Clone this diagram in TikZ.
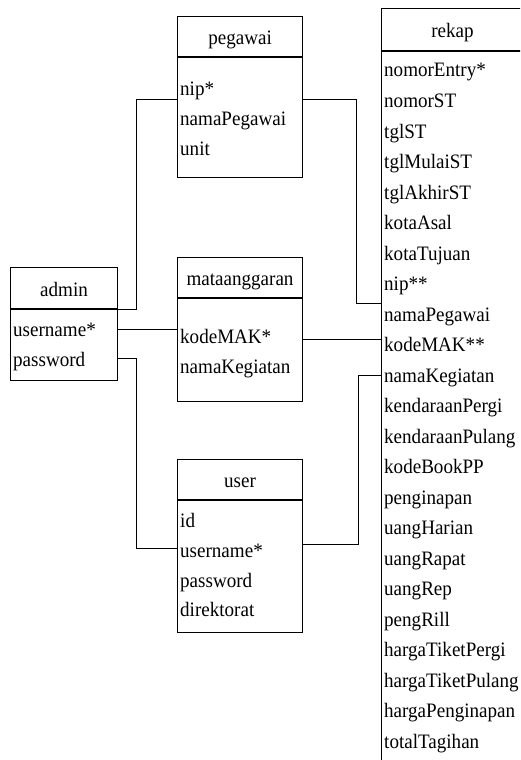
\documentclass[tikz,border=0pt]{standalone}
\usepackage{fontspec}
\setmainfont{Liberation Serif}
\newfontfamily\erdfont[FakeStretch=0.93]{Liberation Serif}
\begin{document}
\begin{tikzpicture}[x=1pt,y=-1pt,
  box/.style={draw=black,line width=1.1pt,rectangle,inner sep=0pt,anchor=north west},
  ttl/.style={anchor=base,inner sep=0pt,font=\erdfont\fontsize{20.5}{24}\selectfont},
  attr/.style={anchor=base west,inner sep=0pt,font=\erdfont\fontsize{20.5}{24}\selectfont},
  link/.style={draw=black,line width=0.8pt}]
\useasboundingbox (0,0) rectangle (520,760);
\clip (0,0) rectangle (520,760);
\fill[white] (0,0) rectangle (520,760);

% pegawai
\node[box,minimum width=125pt,minimum height=40pt] (pegH) at (177,16) {};
\node[box,minimum width=125pt,minimum height=120pt] (pegB) at (pegH.south west) {};
\node[ttl] (pegT) at ([yshift=-8pt]pegH.center) {pegawai};
\node[attr] (peg1) at (180,95) {nip*};
\node[attr] (peg2) at (180,125) {namaPegawai};
\node[attr] (peg3) at (180,155) {unit};

% admin
\node[box,minimum width=107pt,minimum height=41pt] (admH) at (10,267) {};
\node[box,minimum width=107pt,minimum height=71pt] (admB) at (admH.south west) {};
\node[ttl] (admT) at ([yshift=-8pt]admH.center) {admin};
\node[attr] (adm1) at (13,336) {username*};
\node[attr] (adm2) at (13,366) {password};

% mataanggaran
\node[box,minimum width=125pt,minimum height=40pt] (matH) at (177,257) {};
\node[box,minimum width=125pt,minimum height=103pt] (matB) at (matH.south west) {};
\node[ttl] (matT) at ([yshift=-8pt]matH.center) {mataanggaran};
\node[attr] (mat1) at (180,343) {kodeMAK*};
\node[attr] (mat2) at (180,373) {namaKegiatan};

% user
\node[box,minimum width=125pt,minimum height=40pt] (useH) at (177,459) {};
\node[box,minimum width=125pt,minimum height=132pt] (useB) at (useH.south west) {};
\node[ttl] (useT) at ([yshift=-8pt]useH.center) {user};
\node[attr] (use1) at (180,527) {id};
\node[attr] (use2) at (180,557) {username*};
\node[attr] (use3) at (180,587) {password};
\node[attr] (use4) at (180,616) {direktorat};

% rekap
\node[box,minimum width=142pt,minimum height=42pt] (rekH) at (381,8) {};
\node[box,minimum width=142pt,minimum height=760pt] (rekB) at (rekH.south west) {};
\node[ttl] (rekT) at ([yshift=-8pt]rekH.center) {rekap};
\foreach \t [count=\i from 0] in {nomorEntry*,nomorST,tglST,tglMulaiST,tglAkhirST,kotaAsal,kotaTujuan,nip**,namaPegawai,kodeMAK**,namaKegiatan,kendaraanPergi,kendaraanPulang,kodeBookPP,penginapan,uangHarian,uangRapat,uangRep,pengRill,hargaTiketPergi,hargaTiketPulang,hargaPenginapan,totalTagihan}
  \node[attr] (rek\i) at (384,{77+30.5*\i}) {\t};

% connectors
\draw[link] (pegB.west |- 0,99) -- (136,99) |- (admH.south east);
\draw[link] (pegB.east |- 0,99) -- (356,99) |- (rekB.west |- 0,303);
\draw[link] (admB.east |- 0,329) -- (matB.west |- 0,329);
\draw[link] (matB.east |- 0,339) -- (rekB.west |- 0,339);
\draw[link] (admB.east |- 0,358) -- (136,358) |- (useB.west |- 0,548);
\draw[link] (useB.east |- 0,544) -- (358,544) |- (rekB.west |- 0,375);
\end{tikzpicture}
\end{document}
